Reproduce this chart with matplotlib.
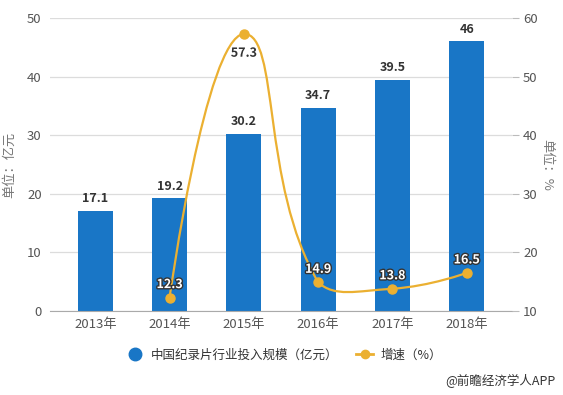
import numpy as np
import matplotlib
matplotlib.use("Agg")
import matplotlib.pyplot as plt
from matplotlib.path import Path
from matplotlib.patches import PathPatch
import matplotlib.patheffects as pe
from matplotlib.lines import Line2D

plt.rcParams['font.family'] = ['Noto Sans CJK SC', 'DejaVu Sans']

categories = ["2013年", "2014年", "2015年", "2016年", "2017年", "2018年"]
scale = [17.1, 19.2, 30.2, 34.7, 39.5, 46]
growth_years = [1, 2, 3, 4, 5]
growth = [12.3, 57.3, 14.9, 13.8, 16.5]
left_ticks = [0, 10, 20, 30, 40, 50]
right_ticks = [10, 20, 30, 40, 50, 60]

BAR = "#1976c6"
LINE = "#ebb031"
GRID = "#dcdcdc"
TXT = "#555555"

fig = plt.figure(figsize=(5.63, 3.95), dpi=100)
ax = fig.add_axes([50/563, 1-311/395, 462/563, 293/395])
ax2 = ax.twinx()

x = np.arange(len(categories))
ax.bar(x, scale, width=0.47, color=BAR, zorder=2)
ax.set_xlim(-0.61, 5.61)
ax.set_ylim(0, 50)
ax.set_yticks(left_ticks)
ax.set_xticks(x)
ax.set_xticklabels(categories)
ax2.set_ylim(10, 60)
ax2.set_yticks(right_ticks)

for a in (ax, ax2):
    for s in a.spines.values():
        s.set_visible(False)
ax.spines['bottom'].set_visible(True)
ax.spines['bottom'].set_color("#aaaaaa")
ax.yaxis.grid(True, color=GRID, lw=0.9, zorder=0)
ax.set_axisbelow(True)
ax.tick_params(axis='y', length=0, labelsize=9.5, labelcolor=TXT, pad=6)
ax.tick_params(axis='x', length=0, labelsize=9.5, labelcolor=TXT, pad=5)
ax2.tick_params(axis='y', length=5, color="#bbbbbb", labelsize=9.5, labelcolor=TXT, pad=3)

ax.set_ylabel("单位：亿元", color="#777777", fontsize=9.5, labelpad=8)
ax2.set_ylabel("单位：%", color="#777777", fontsize=9.5, rotation=-90, labelpad=11)

for xi, v in zip(x, scale):
    ax.text(xi, v + 1.0, f"{v:g}", ha='center', va='bottom', fontsize=9,
            fontweight='bold', color="#333333", zorder=5)

# smooth line (echarts-like bezier with constraint) computed in display space
fig.canvas.draw()
pts = ax2.transData.transform(np.column_stack([growth_years, growth]))
pmin = pts.min(axis=0)
pmax = pts.max(axis=0)
smooth = 0.5
n = len(pts)
verts = [pts[0]]
codes = [Path.MOVETO]
cps = []
for i in range(n):
    if i == 0 or i == n - 1:
        cps.append((pts[i], pts[i]))
        continue
    p, pp, pn = pts[i], pts[i-1], pts[i+1]
    v = (pn - pp) * smooth
    d0 = np.hypot(*(p - pp))
    d1 = np.hypot(*(p - pn))
    s = d0 + d1
    c0 = np.clip(p - v * d0 / s, pmin, pmax)
    c1 = np.clip(p + v * d1 / s, pmin, pmax)
    cps.append((c0, c1))
for i in range(n - 1):
    verts += [cps[i][1], cps[i+1][0], pts[i+1]]
    codes += [Path.CURVE4] * 3
verts_data = ax2.transData.inverted().transform(np.array(verts))
patch = PathPatch(Path(verts_data, codes), facecolor='none', edgecolor=LINE, lw=1.6, zorder=4)
ax2.add_patch(patch)
ax2.plot(growth_years, growth, 'o', color=LINE, ms=6.5, zorder=5)

for xi, v in zip(growth_years, growth):
    if v > 50:
        ax2.text(xi, v - 2.2, f"{v:g}", ha='center', va='top', fontsize=9,
                 fontweight='bold', color="#333333", zorder=6,
                 path_effects=[pe.withStroke(linewidth=2, foreground='white')])
    else:
        ax2.text(xi, v + 1.1, f"{v:g}", ha='center', va='bottom', fontsize=9,
                 fontweight='bold', color="white", zorder=6,
                 path_effects=[pe.withStroke(linewidth=2, foreground='#333333')])

# legend
h1 = Line2D([], [], marker='o', color=BAR, linestyle='none', ms=9)
h2 = Line2D([], [], marker='o', color=LINE, lw=2, ms=6)
fig.legend([h1, h2], ["中国纪录片行业投入规模（亿元）", "增速（%）"],
           loc='center', bbox_to_anchor=(284/563, 1-355/395), ncol=2, frameon=False,
           fontsize=9, handlelength=1.4, columnspacing=1.4, handletextpad=0.6,
           labelcolor="#333333")

fig.text(556/563, 1-381/395, "@前瞻经济学人APP", ha='right', va='center',
         fontsize=9, color="#333333")

fig.savefig("out.png", dpi=100)
